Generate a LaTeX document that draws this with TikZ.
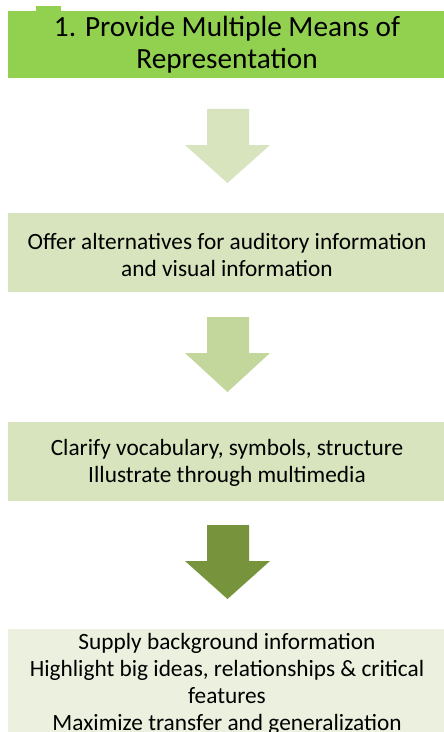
\documentclass[tikz,border=0pt]{standalone}
\usepackage{fontspec}
\setmainfont{Carlito}
\definecolor{headgreen}{HTML}{92D050}
\definecolor{paleA}{HTML}{D7E4BD}
\definecolor{paleB}{HTML}{EBF1DE}
\definecolor{arrowA}{HTML}{D7E4BD}
\definecolor{arrowB}{HTML}{C3D69B}
\definecolor{arrowC}{HTML}{77933C}
\tikzset{
  bodytext/.style={align=center, inner sep=0pt, text=black,
    font=\fontsize{23.4}{27}\selectfont},
  titletext/.style={align=center, inner sep=0pt, text=black,
    font=\fontsize{29.4}{32}\selectfont},
}
% block arrow pointing down: centre x, shaft top, head base, tip, colour
\newcommand{\downblock}[5]{%
  \fill[#5] (#1-20.5,#2) -- (#1+21.5,#2) -- (#1+21.5,#3) -- (#1+42.5,#3)
    -- (#1,#4) -- (#1-42.5,#3) -- (#1-20.5,#3) -- cycle;}
\begin{document}
\begin{tikzpicture}[x=1bp,y=-1bp]
\useasboundingbox[fill=white] (0,0) rectangle (444,732);
% heading panel with its tab
\fill[headgreen] (8,11) rectangle (444,78);
\fill[headgreen] (36,6) rectangle (61,11);
\node[titletext] (title) at (227,45) {1. Provide Multiple Means of\\Representation};
% step panels
\fill[paleA] (8,213) rectangle (444,292);
\node[bodytext] (s1) at (227,255) {Offer alternatives for auditory information\\and visual information};
\fill[paleA] (8,422) rectangle (444,501);
\node[bodytext] (s2) at (227,463) {Clarify vocabulary, symbols, structure\\Illustrate through multimedia};
\fill[paleB] (8,629) rectangle (444,732);
\node[bodytext] (s3) at (227,684) {Supply background information\\Highlight big ideas, relationships \& critical\\features\\Maximize transfer and generalization};
% arrows between the panels
\downblock{227.5}{109}{145}{183}{arrowA}
\downblock{227.5}{317}{353}{392}{arrowB}
\downblock{227.5}{525}{561}{599}{arrowC}
\end{tikzpicture}
\end{document}
